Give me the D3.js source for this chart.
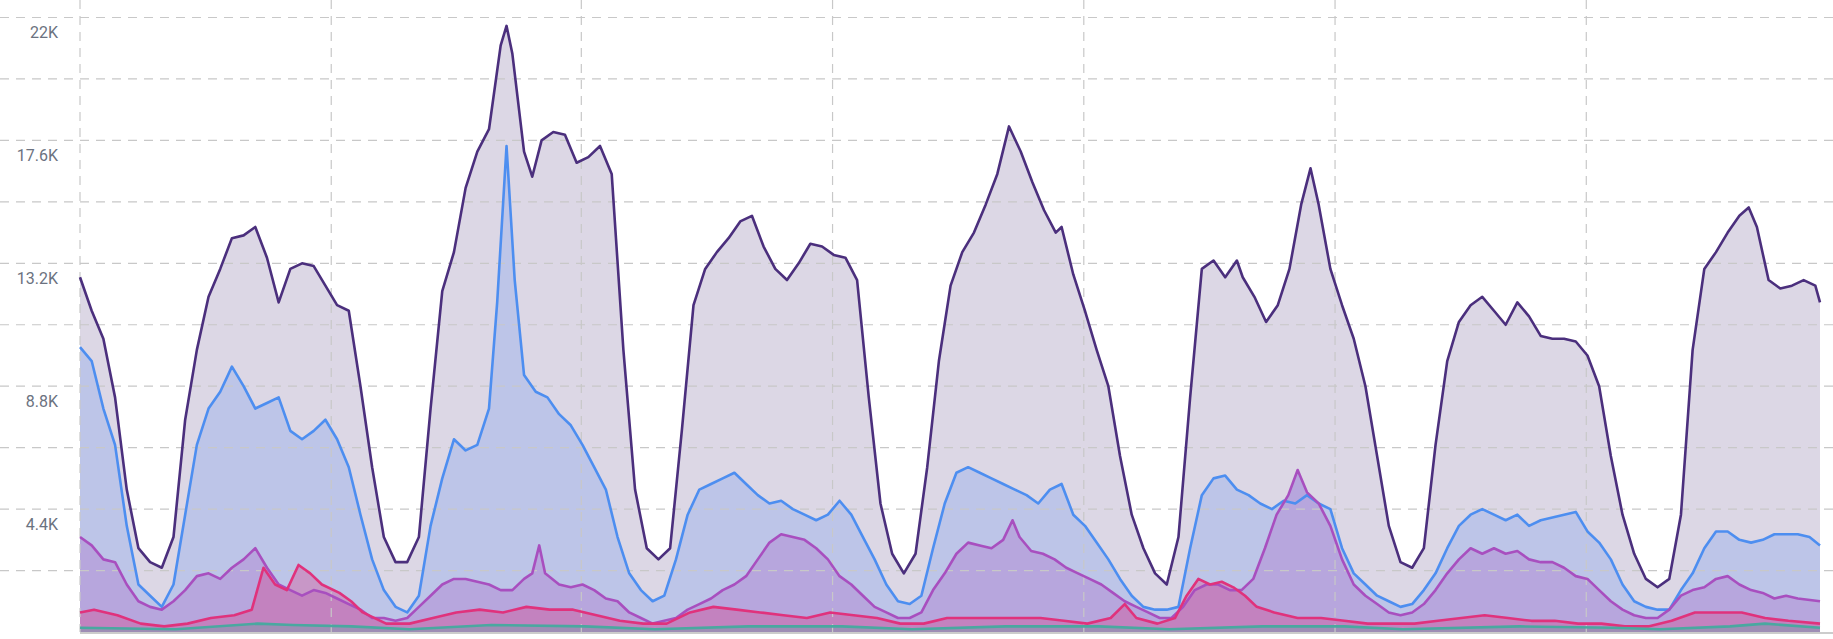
<!DOCTYPE html><html><head><meta charset="utf-8">
<script src="https://cdn.jsdelivr.net/npm/d3@7"></script>
<style>body{margin:0;background:#fff}</style></head><body>
<svg id="c" width="1833" height="639"></svg>
<script>
// sample positions (time units) and values in thousands
const totalT=[68,78,88,98,108,118,128,138,148,158,168,178,188,198,208,218,228,238,248,258,268,278,288,298,308,318,328,338,348,358,368,378,388,398,408,418,428,433,438,448,455,463,473,483,493,503,513,523,533,543,553,563,573,583,593,603,613,623,633,643,653,663,673,683,693,703,713,723,733,743,753,763,773,783,793,803,813,823,833,843,853,863,873,883,893,903,908,918,928,938,948,958,968,978,988,998,1008,1018,1028,1038,1048,1058,1063,1073,1083,1093,1103,1113,1121,1128,1138,1148,1158,1168,1178,1188,1198,1208,1218,1228,1238,1248,1258,1268,1278,1288,1298,1308,1318,1328,1338,1348,1358,1368,1378,1388,1398,1408,1418,1428,1438,1448,1458,1468,1478,1488,1496,1503,1513,1523,1533,1543,1553,1557];
const totalV=[12.7,11.5,10.5,8.4,5.1,3.0,2.5,2.3,3.4,7.6,10.1,12.0,13.0,14.1,14.2,14.5,13.4,11.8,13.0,13.2,13.1,12.4,11.7,11.5,8.8,5.9,3.4,2.5,2.5,3.4,8.0,12.2,13.6,15.9,17.2,18.0,21.0,21.7,20.7,17.2,16.3,17.6,17.9,17.8,16.8,17.0,17.4,16.4,10.1,5.1,3.0,2.6,3.0,7.2,11.7,13.0,13.6,14.1,14.7,14.9,13.8,13.0,12.6,13.2,13.9,13.8,13.5,13.4,12.6,8.4,4.6,2.8,2.1,2.8,5.9,9.7,12.4,13.6,14.3,15.3,16.4,18.1,17.2,16.1,15.1,14.3,14.5,12.8,11.5,10.1,8.8,6.3,4.2,3.0,2.1,1.7,3.4,8.4,13.0,13.3,12.7,13.3,12.7,12.0,11.1,11.7,13.0,15.3,16.6,15.3,13.0,11.7,10.5,8.8,6.3,3.8,2.5,2.3,3.0,6.7,9.7,11.1,11.7,12.0,11.5,11.0,11.8,11.3,10.6,10.5,10.5,10.4,9.9,8.8,6.3,4.2,2.8,1.9,1.6,1.9,4.2,10.1,13.0,13.6,14.3,14.9,15.2,14.5,12.6,12.3,12.4,12.6,12.4,11.8];
const blueT=[68,78,88,98,108,118,128,138,148,158,168,178,188,198,208,218,228,238,248,258,268,278,288,298,308,318,328,338,348,358,368,378,388,398,408,418,425,433,440,448,458,468,478,488,498,508,518,528,538,548,558,568,578,588,598,608,618,628,638,648,658,668,678,688,698,708,718,728,738,748,758,768,778,788,798,808,818,828,838,848,858,868,878,888,898,908,918,928,938,948,958,968,978,988,998,1008,1018,1028,1038,1048,1058,1068,1078,1088,1098,1108,1118,1128,1138,1148,1158,1168,1178,1188,1198,1208,1218,1228,1238,1248,1258,1268,1278,1288,1298,1308,1318,1328,1338,1348,1358,1368,1378,1388,1398,1408,1418,1428,1438,1448,1458,1468,1478,1488,1498,1508,1518,1528,1538,1548,1557];
const blueV=[10.2,9.7,8.0,6.7,3.8,1.7,1.3,0.9,1.7,4.2,6.7,8.0,8.6,9.5,8.8,8.0,8.2,8.4,7.2,6.9,7.2,7.6,6.9,5.9,4.2,2.6,1.5,0.9,0.7,1.3,3.8,5.5,6.9,6.5,6.7,8.0,11.8,17.4,12.6,9.2,8.6,8.4,7.8,7.4,6.7,5.9,5.1,3.4,2.1,1.5,1.1,1.3,2.6,4.2,5.1,5.3,5.5,5.7,5.3,4.9,4.6,4.7,4.4,4.2,4.0,4.2,4.7,4.2,3.4,2.6,1.7,1.1,1.0,1.3,3.0,4.6,5.7,5.9,5.7,5.5,5.3,5.1,4.9,4.6,5.1,5.3,4.2,3.8,3.2,2.6,1.9,1.3,0.9,0.8,0.8,0.9,3.0,4.9,5.5,5.6,5.1,4.9,4.6,4.4,4.7,4.6,4.9,4.6,4.4,3.0,2.1,1.7,1.3,1.1,0.9,1.0,1.5,2.1,3.0,3.8,4.2,4.4,4.2,4.0,4.2,3.8,4.0,4.1,4.2,4.3,3.6,3.2,2.6,1.7,1.1,0.9,0.8,0.8,1.5,2.1,3.0,3.6,3.6,3.3,3.2,3.3,3.5,3.5,3.5,3.4,3.1];
const purpleT=[68,78,88,98,108,118,128,138,148,158,168,178,188,198,208,218,228,238,248,258,268,278,288,298,308,318,328,338,348,358,368,378,388,398,408,418,428,438,448,455,461,466,478,488,498,508,518,528,538,548,558,568,578,588,598,608,618,628,638,648,658,668,678,688,698,708,718,728,738,748,758,768,778,788,798,808,818,828,838,848,858,866,872,882,892,902,912,922,932,942,952,962,972,982,992,1002,1012,1022,1032,1042,1052,1062,1072,1082,1092,1102,1110,1118,1128,1138,1148,1158,1168,1178,1188,1198,1208,1218,1228,1238,1248,1258,1268,1278,1288,1298,1308,1318,1328,1338,1348,1358,1368,1378,1388,1398,1408,1418,1428,1438,1448,1458,1468,1478,1488,1498,1508,1518,1528,1538,1557];
const purpleV=[3.4,3.1,2.6,2.5,1.7,1.1,0.9,0.8,1.1,1.5,2.0,2.1,1.9,2.3,2.6,3.0,2.3,1.7,1.5,1.3,1.5,1.4,1.2,1.0,0.8,0.5,0.5,0.4,0.5,0.9,1.3,1.7,1.9,1.9,1.8,1.7,1.5,1.5,1.9,2.1,3.1,2.1,1.7,1.6,1.7,1.5,1.2,1.1,0.7,0.5,0.3,0.4,0.5,0.8,1.0,1.2,1.5,1.7,2.0,2.6,3.2,3.5,3.4,3.3,3.0,2.6,2.0,1.7,1.3,0.9,0.7,0.5,0.5,0.7,1.5,2.1,2.8,3.2,3.1,3.0,3.3,4.0,3.4,2.9,2.8,2.6,2.3,2.1,1.9,1.7,1.4,1.1,0.9,0.7,0.5,0.5,0.9,1.5,1.7,1.7,1.5,1.5,1.9,3.0,4.2,4.9,5.8,5.0,4.6,3.8,2.6,1.7,1.3,1.0,0.7,0.6,0.7,1.0,1.5,2.1,2.6,3.0,2.8,3.0,2.8,2.9,2.6,2.5,2.5,2.3,2.0,1.9,1.5,1.1,0.8,0.6,0.5,0.5,0.8,1.3,1.5,1.6,1.9,2.0,1.7,1.5,1.4,1.2,1.3,1.2,1.1];
const pinkT=[68,80,100,120,140,160,180,200,215,225,235,245,255,265,275,290,300,310,330,350,370,390,410,430,450,470,490,510,530,550,570,590,610,630,650,670,690,710,730,750,770,790,810,830,850,870,890,910,930,950,962,972,990,1005,1015,1025,1035,1045,1055,1065,1075,1090,1110,1130,1150,1170,1190,1210,1230,1250,1270,1290,1310,1330,1350,1370,1390,1410,1430,1450,1470,1490,1510,1530,1557];
const pinkV=[0.7,0.8,0.6,0.3,0.2,0.3,0.5,0.6,0.8,2.3,1.7,1.5,2.4,2.1,1.7,1.4,1.1,0.7,0.3,0.3,0.5,0.7,0.8,0.7,0.9,0.8,0.8,0.6,0.4,0.3,0.3,0.7,0.9,0.8,0.7,0.6,0.5,0.7,0.6,0.5,0.3,0.3,0.5,0.5,0.5,0.5,0.5,0.4,0.3,0.5,1.0,0.5,0.3,0.5,1.3,1.9,1.7,1.8,1.6,1.3,0.9,0.7,0.5,0.5,0.4,0.3,0.3,0.3,0.4,0.5,0.6,0.5,0.4,0.4,0.3,0.3,0.2,0.2,0.4,0.7,0.7,0.7,0.5,0.4,0.3];
const tealT=[68,150,220,250,300,350,420,500,560,640,720,780,860,940,1000,1080,1150,1200,1300,1380,1420,1480,1510,1557];
const tealV=[0.15,0.1,0.3,0.25,0.2,0.1,0.25,0.2,0.1,0.2,0.2,0.1,0.2,0.2,0.1,0.2,0.2,0.1,0.2,0.15,0.1,0.2,0.3,0.15];
const yTicks=[4.4,8.8,13.2,17.6,22];
const yTickLabels=["4.4K","8.8K","13.2K","17.6K","22K"];
const dayMarks=[68,283,497,712,927,1142,1357];

const svg=d3.select("#c");
const x=d3.scaleLinear().domain([68,1557]).range([80,1820]);
const y=d3.scaleLinear().domain([0,22]).range([632,17.5]);
const zip=(T,V)=>T.map((t,i)=>[t,V[i]]);
const series=[
 {d:zip(totalT,totalV),fill:"#dcd7e5",fo:1,line:"#4b2f7d"},
 {d:zip(blueT,blueV),fill:"#bdc5e8",fo:1,line:"#4d8ef0"},
 {d:zip(purpleT,purpleV),fill:"#b7a6dd",fo:1,line:"#a84fbf"},
 {d:zip(pinkT,pinkV),fill:"#e0307a",fo:0.3,line:"#e0327c"},
 {d:zip(tealT,tealV),fill:"#4aa8a0",fo:0.3,line:"#4aa8a0"}
];
const area=d3.area().x(d=>x(d[0])).y0(y(0)).y1(d=>y(d[1]));
const line=d3.line().x(d=>x(d[0])).y(d=>y(d[1]));
series.forEach(s=>svg.append("path").attr("d",area(s.d)).attr("fill",s.fill).attr("fill-opacity",s.fo));
// grid
const g=svg.append("g");
d3.range(1,11).map(i=>i*2.2).forEach(v=>g.append("line").attr("x1",0).attr("x2",1833).attr("y1",y(v)).attr("y2",y(v)).attr("stroke","#c8c8c8").attr("stroke-dasharray","9,7").attr("stroke-width",1.2));
dayMarks.forEach(t=>g.append("line").attr("x1",x(t)).attr("x2",x(t)).attr("y1",0).attr("y2",y(0)).attr("stroke","#c8c8c8").attr("stroke-dasharray","9,7").attr("stroke-width",1.2));
series.forEach(s=>svg.append("path").attr("d",line(s.d)).attr("fill","none").attr("stroke",s.line).attr("stroke-width",2.6).attr("stroke-linejoin","round"));
svg.append("line").attr("x1",x(68)).attr("x2",1833).attr("y1",y(0)+1).attr("y2",y(0)+1).attr("stroke","#bbb").attr("stroke-width",1.5);
yTicks.forEach((v,i)=>svg.append("text").attr("x",58).attr("y",y(v)+15).attr("dy","0.35em").attr("text-anchor","end")
 .attr("font-family","Roboto, sans-serif").attr("font-size",16).attr("fill","#6b7280").text(yTickLabels[i]));
</script></body></html>
